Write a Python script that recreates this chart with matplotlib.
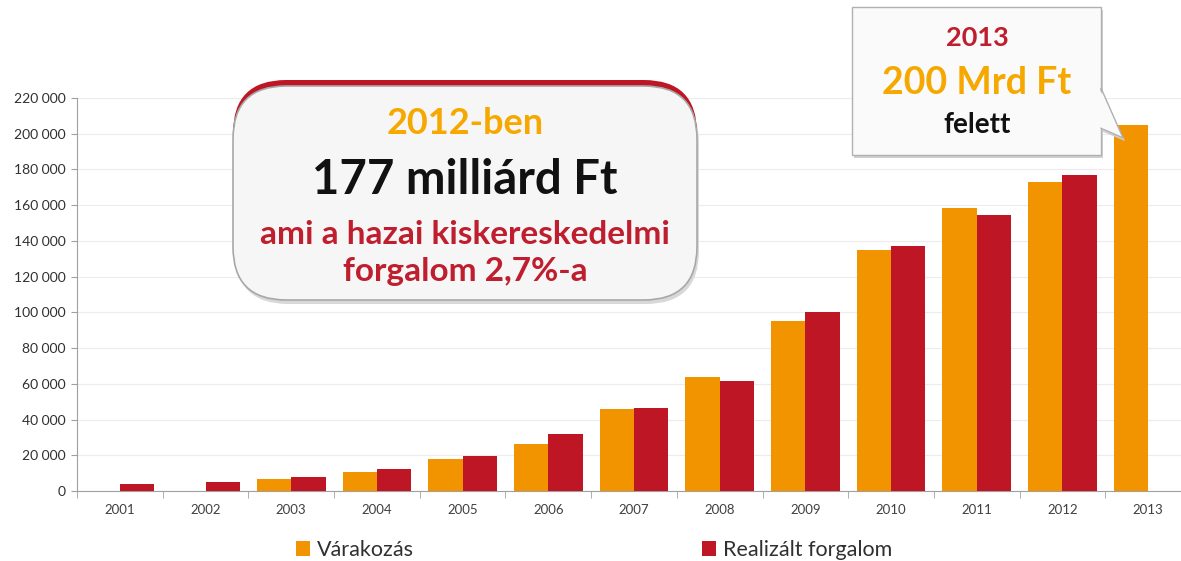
import matplotlib
matplotlib.use("Agg")
import matplotlib.pyplot as plt
import numpy as np
from matplotlib.patches import FancyBboxPatch, Polygon, Rectangle
from matplotlib.ticker import FuncFormatter, FixedLocator

plt.rcParams['font.family'] = ['Lato', 'DejaVu Sans']

years = ['2001', '2002', '2003', '2004', '2005', '2006', '2007', '2008', '2009', '2010', '2011', '2012', '2013']
varakozas = [0, 0, 6500, 10400, 17900, 26300, 45800, 64000, 95000, 135000, 158300, 172800, 205000]
realizalt = [3700, 5000, 8000, 12300, 19600, 31800, 46400, 61500, 100000, 136900, 154700, 177000, 0]
yticks = [0, 20000, 40000, 60000, 80000, 100000, 120000, 140000, 160000, 180000, 200000, 220000]
legend_labels = ['Várakozás', 'Realizált forgalom']

ORANGE = '#F29400'
RED = '#BE1625'
TXT_ORANGE = '#F6A800'
TXT_RED = '#BE1E2D'

W, H = 1181, 561
fig = plt.figure(figsize=(W / 100, H / 100), dpi=100)
fig.patch.set_facecolor('white')

def fx(px):
    return px / W

def fy(py):
    return (H - py) / H

ax = fig.add_axes([fx(77), fy(491), (1191 - 77) / W, (491 - 98) / H])
x = np.arange(len(years))
bw = 0.40
ax.bar(x - bw / 2, varakozas, width=bw, color=ORANGE, zorder=3, label=legend_labels[0])
ax.bar(x + bw / 2, realizalt, width=bw, color=RED, zorder=3, label=legend_labels[1])
ax.set_xlim(-0.5, len(years) - 0.5)
ax.set_ylim(0, 220000)
ax.set_yticks(yticks)
ax.yaxis.set_major_formatter(FuncFormatter(lambda v, p: f"{int(v):,}".replace(',', ' ')))
ax.set_xticks(x)
ax.set_xticklabels(years)
ax.xaxis.set_minor_locator(FixedLocator(np.arange(-0.5, len(years), 1.0)))
ax.tick_params(axis='x', which='major', length=0, labelsize=9.5, labelcolor='#404040', pad=9)
ax.tick_params(axis='x', which='minor', length=5, color='#A0A0A0', direction='out')
ax.tick_params(axis='y', length=4, color='#A0A0A0', labelsize=10, labelcolor='#303030', pad=4)
ax.grid(axis='y', color='#ECECEC', linewidth=0.8, zorder=0)
for s in ['top', 'right']:
    ax.spines[s].set_visible(False)
ax.spines['left'].set_color('#A0A0A0')
ax.spines['bottom'].set_color('#A0A0A0')
ax.set_facecolor('none')

# legend
handles, labels = ax.get_legend_handles_labels()
fig.legend(handles, labels, loc='center left', bbox_to_anchor=(fx(292), fy(550)),
           ncol=2, frameon=False, fontsize=15.5, handlelength=0.65, handleheight=0.65,
           handletextpad=0.3, columnspacing=13.4, labelcolor='#303030',
           borderaxespad=0, borderpad=0.2)

# Callout 1
tf = fig.transFigure
x0, y0, x1, y1 = 233, 86, 697, 300
shadow = FancyBboxPatch((fx(x0 + 2), fy(y1 + 4)), fx(x1 - x0), (y1 - y0) / H,
                        boxstyle="round,pad=0,rounding_size=0.045", transform=tf,
                        facecolor='#D8D8D8', edgecolor='none', zorder=5,
                        mutation_aspect=W / H)
fig.patches.append(shadow)
redtop = FancyBboxPatch((fx(x0), fy(y1 - 20)), fx(x1 - x0), (y1 - 20 - y0 + 6) / H,
                        boxstyle="round,pad=0,rounding_size=0.045", transform=tf,
                        facecolor=RED, edgecolor='none', zorder=6, mutation_aspect=W / H)
fig.patches.append(redtop)
box = FancyBboxPatch((fx(x0), fy(y1)), fx(x1 - x0), (y1 - y0) / H,
                     boxstyle="round,pad=0,rounding_size=0.045", transform=tf,
                     facecolor='#F6F6F6', edgecolor='#A8A8A8', linewidth=1.2, zorder=7,
                     mutation_aspect=W / H)
fig.patches.append(box)
cx = 465
fig.text(fx(cx), fy(123), '2012-ben', ha='center', va='center', fontsize=26,
         fontweight='bold', color=TXT_ORANGE, zorder=8)
fig.text(fx(cx), fy(180), '177 milliárd Ft', ha='center', va='center', fontsize=34,
         fontweight='bold', color='#111111', zorder=8)
fig.text(fx(cx), fy(234), 'ami a hazai kiskereskedelmi', ha='center', va='center', fontsize=24,
         fontweight='bold', color=TXT_RED, zorder=8)
fig.text(fx(cx), fy(271), 'forgalom 2,7%-a', ha='center', va='center', fontsize=24,
         fontweight='bold', color=TXT_RED, zorder=8)

# Callout 2
bx0, by0, bx1, by1 = 852, 7, 1101, 155
sh2 = Rectangle((fx(bx0 + 2), fy(by1 + 3)), fx(bx1 - bx0), (by1 - by0) / H, transform=tf,
                facecolor='#D0D0D0', edgecolor='none', zorder=5)
fig.patches.append(sh2)
tail_sh = Polygon([(fx(bx1), fy(90)), (fx(1125), fy(141)), (fx(bx1), fy(131))], closed=True,
                  transform=tf, facecolor='#D0D0D0', edgecolor='none', zorder=5)
fig.patches.append(tail_sh)
b2 = Rectangle((fx(bx0), fy(by1)), fx(bx1 - bx0), (by1 - by0) / H, transform=tf,
               facecolor='#FAFAFA', edgecolor='#B0B0B0', linewidth=1.0, zorder=6)
fig.patches.append(b2)
tail = Polygon([(fx(bx1), fy(88)), (fx(1123), fy(138)), (fx(bx1), fy(128))], closed=True,
               transform=tf, facecolor='#FAFAFA', edgecolor='#B0B0B0', linewidth=1.0, zorder=6)
fig.patches.append(tail)
tail_fill = Polygon([(fx(bx1 - 1.5), fy(89)), (fx(1120), fy(135)), (fx(bx1 - 1.5), fy(127))],
                    closed=True, transform=tf, facecolor='#FAFAFA', edgecolor='none', zorder=6.5)
fig.patches.append(tail_fill)
c2 = 977
fig.text(fx(c2), fy(38), '2013', ha='center', va='center', fontsize=19.5,
         fontweight='bold', color=TXT_RED, zorder=8)
fig.text(fx(c2), fy(83), '200 Mrd Ft', ha='center', va='center', fontsize=27,
         fontweight='bold', color=TXT_ORANGE, zorder=8)
fig.text(fx(c2), fy(125), 'felett', ha='center', va='center', fontsize=20,
         fontweight='bold', color='#111111', zorder=8)

fig.savefig('out.png', dpi=100)
